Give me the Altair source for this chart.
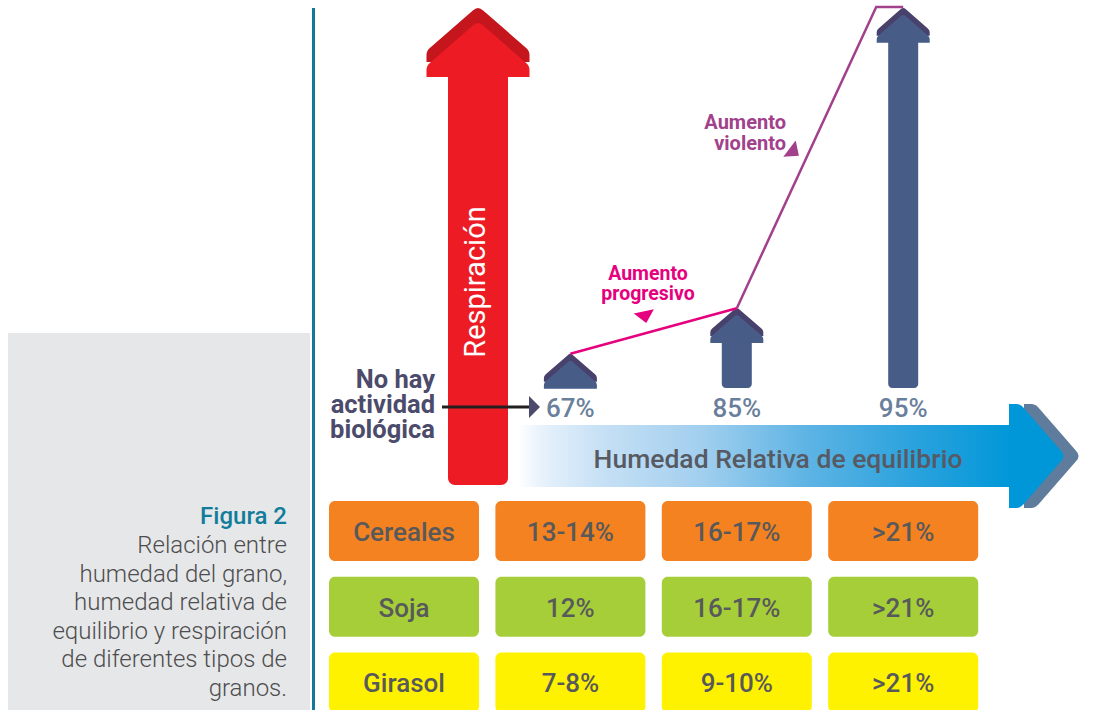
import altair as alt
import pandas as pd

# ---------------------------------------------------------------------------
# Data
# ---------------------------------------------------------------------------
cultivos = ["Cereales", "Soja", "Girasol"]
colores_cultivo = ["#f58220", "#a6ce39", "#fff200"]

humedad_relativa = ["67%", "85%", "95%"]
respiracion = [0.09, 0.21, 1.0]          # relative respiration (1 = maximum)

humedad_grano_cereales = ["13-14%", "16-17%", ">21%"]
humedad_grano_soja = ["12%", "16-17%", ">21%"]
humedad_grano_girasol = ["7-8%", "9-10%", ">21%"]

titulo_eje_y = "Respiración"
titulo_eje_x = "Humedad Relativa de equilibrio"
nota_origen = ["No hay", "actividad", "biológica"]
aumento_progresivo = ["Aumento", "progresivo"]
aumento_violento = ["Aumento", "violento"]
titulo_figura = "Figura 2"
leyenda_figura = ["Relación entre", "humedad del grano,", "humedad relativa de",
                  "equilibrio y respiración", "de diferentes tipos de", "granos."]

# ---------------------------------------------------------------------------
# Layout
# ---------------------------------------------------------------------------
W, H = 1110, 710
FONT = "Roboto"

COL_LEFT0, COL_STEP, CELL_W = 329, 166.4, 150
ROW_TOP0, ROW_STEP, CELL_H = 501, 75.7, 60

BASE_Y, SPAN_Y = 388, 380                # respiration axis: 0 at BASE_Y, 1 at BASE_Y-SPAN_Y
RED_X = 478


def col_center(c):
    return COL_LEFT0 + COL_STEP * c + CELL_W / 2


def resp_y(r):
    return BASE_Y - r * SPAN_Y


XS = alt.Scale(domain=[0, W], nice=False, zero=False)
YS = alt.Scale(domain=[0, H], nice=False, zero=False, reverse=True)


def X(f="x"):
    return alt.X(f"{f}:Q", scale=XS, axis=None)


def Y(f="y"):
    return alt.Y(f"{f}:Q", scale=YS, axis=None)


def rects(rows, **kw):
    df = pd.DataFrame(rows, columns=["x", "x2", "y", "y2", "fill"])
    return alt.Chart(df).mark_rect(**kw).encode(
        x=X(), x2=alt.X2("x2:Q"), y=Y(), y2=alt.Y2("y2:Q"),
        color=alt.Color("fill:N", scale=None))


def texts(rows, **kw):
    df = pd.DataFrame(rows, columns=["x", "y", "text"])
    return alt.Chart(df).mark_text(**kw).encode(x=X(), y=Y(), text="text:N")


def symbols(rows, path):
    df = pd.DataFrame(rows, columns=["x", "y", "size", "angle", "fill"])
    return alt.Chart(df).mark_point(shape=path, filled=True, opacity=1,
                                    strokeWidth=0).encode(
        x=X(), y=Y(),
        size=alt.Size("size:Q", scale=None),
        angle=alt.Angle("angle:Q", scale=None),
        color=alt.Color("fill:N", scale=None))


def polyline(points, **kw):
    df = pd.DataFrame([(x, y, i) for i, (x, y) in enumerate(points)],
                      columns=["x", "y", "o"])
    return alt.Chart(df).mark_line(**kw).encode(x=X(), y=Y(), order=alt.Order("o:Q"))


# arrow head in unit coordinates (width 2, apex up, base at +0.5)
HEAD = ("M-1,0.5 L-1,0.36 Q-1,0.28 -0.93,0.22 L-0.1,-0.5 Q0,-0.6 0.1,-0.5 "
        "L0.93,0.22 Q1,0.28 1,0.36 L1,0.5 Z")
POINTER = "M-1,-0.55 L1,-0.55 L0,0.6 Z"
ARROW_TIP = "M-0.5,-1 L0.5,0 L-0.5,1 Z"

layers = []

# caption panel and divider
layers.append(rects([(8, 310, 333, H + 5, "#e6e7e8")]))
layers.append(rects([(312, 315, 8, H + 5, "#127a99")]))

# horizontal axis arrow (gradient band)
grad = alt.LinearGradient(
    gradient="linear", x1=0, x2=1, y1=0, y2=0,
    stops=[alt.GradientStop(color="#ffffff", offset=0),
           alt.GradientStop(color="#e6f1fb", offset=0.05),
           alt.GradientStop(color="#c6e0f5", offset=0.17),
           alt.GradientStop(color="#a2cfef", offset=0.37),
           alt.GradientStop(color="#5eb4e4", offset=0.58),
           alt.GradientStop(color="#2aa2dd", offset=0.8),
           alt.GradientStop(color="#0097d8", offset=1)])
layers.append(symbols([(1050, 456, 104 ** 2, 90, "#607c9c")], HEAD))
band = pd.DataFrame([{"x": 518, "x2": 1014, "y": 425, "y2": 487}])
layers.append(alt.Chart(band).mark_rect(fill=grad).encode(
    x=X(), x2=alt.X2("x2:Q"), y=Y(), y2=alt.Y2("y2:Q")))
layers.append(symbols([(1035, 456, 104 ** 2, 90, "#0097d8")], HEAD))
layers.append(texts([(778, 468, titulo_eje_x)], font=FONT, fontSize=26.5,
                    fontWeight=500, color="#585a63", align="center",
                    baseline="alphabetic"))

# vertical axis arrow (respiration)
red_half = 51.5
red_tip = resp_y(max(respiracion))
red_dark_c = red_tip + 0.55 * red_half
red_c = red_dark_c + 15
layers.append(rects([(RED_X - 30, RED_X + 30, red_c + red_half * 0.5 - 2, 485, "#ed1c24")],
                    cornerRadiusBottomLeft=7, cornerRadiusBottomRight=7))
layers.append(symbols([(RED_X, red_dark_c, (2 * red_half) ** 2, 0, "#c4161c"),
                       (RED_X, red_c, (2 * red_half) ** 2, 0, "#ed1c24")], HEAD))
layers.append(texts([(RED_X + 7, 282, titulo_eje_y)], font=FONT, fontSize=29,
                    color="white", align="center", baseline="alphabetic", angle=270))

# respiration arrows for each relative humidity
blue_half = 26.5
dark_rows, bright_rows, body_rows, tips = [], [], [], []
for i, r in enumerate(respiracion):
    cx = col_center(i + 1)
    tip = resp_y(r)
    dark_c = tip + 0.55 * blue_half
    bright_c = dark_c + 7
    base = bright_c + 0.5 * blue_half
    tips.append((cx, tip))
    dark_rows.append((cx, dark_c, (2 * blue_half) ** 2, 0, "#48416c"))
    bright_rows.append((cx, bright_c, (2 * blue_half) ** 2, 0, "#475c87"))
    if base < BASE_Y - 2:
        body_rows.append((cx - 15, cx + 15, base - 1, BASE_Y, "#475c87"))
layers.append(symbols(dark_rows, HEAD))
layers.append(rects(body_rows, cornerRadiusBottomLeft=4, cornerRadiusBottomRight=4))
layers.append(symbols(bright_rows, HEAD))

layers.append(texts([(col_center(i + 1), 417, h) for i, h in enumerate(humedad_relativa)],
                    font=FONT, fontSize=26, fontWeight=500, color="#6a7f9b",
                    align="center", baseline="alphabetic"))

# trend lines between arrow tips
layers.append(polyline([tips[0], tips[1]], color="#e5007e", strokeWidth=2.5))
layers.append(polyline([tips[1], (tips[2][0] - blue_half - 0.5, tips[2][1] - 1),
                        (tips[2][0], tips[2][1] - 1)],
                       color="#a2418b", strokeWidth=2.5))
layers.append(symbols([(645, 317, 420, 348, "#e5007e"),
                       (794, 152, 420, 307, "#a2418b")], POINTER))
layers.append(texts([(648, 280, aumento_progresivo[0]), (648, 300, aumento_progresivo[1])],
                    font=FONT, fontSize=19.5, fontWeight="bold", color="#e5007e",
                    align="center", baseline="alphabetic"))
layers.append(texts([(786, 129, aumento_violento[0]), (786, 150, aumento_violento[1])],
                    font=FONT, fontSize=20, fontWeight="bold", color="#a2418b",
                    align="right", baseline="alphabetic"))

# "no biological activity" note with pointer
layers.append(texts([(435, 388 + 25 * k, t) for k, t in enumerate(nota_origen)],
                    font=FONT, fontSize=25.5, fontWeight="bold", color="#4c4b6b",
                    align="right", baseline="alphabetic"))
layers.append(polyline([(442, 407), (531, 407)], color="#231f20", strokeWidth=3))
layers.append(symbols([(534.5, 407, 22 ** 2, 0, "#4c4b6b")], ARROW_TIP))

# grain moisture table
grano = [humedad_grano_cereales, humedad_grano_soja, humedad_grano_girasol]
cell_rows, cell_text = [], []
for r, (cultivo, color) in enumerate(zip(cultivos, colores_cultivo)):
    top = ROW_TOP0 + ROW_STEP * r
    for c, label in enumerate([cultivo] + grano[r]):
        left = COL_LEFT0 + COL_STEP * c
        cell_rows.append((left, left + CELL_W, top, top + CELL_H, color))
        cell_text.append((left + CELL_W / 2, top + CELL_H / 2 + 10, label))
layers.append(rects(cell_rows, cornerRadius=6))
layers.append(texts(cell_text, font=FONT, fontSize=26, fontWeight=500,
                    color="#58595b", align="center", baseline="alphabetic"))

# figure caption
layers.append(texts([(287, 524, titulo_figura)], font=FONT, fontSize=24,
                    fontWeight=500, color="#127d9b", align="right",
                    baseline="alphabetic"))
layers.append(texts([(287, 553 + 28.5 * k, t) for k, t in enumerate(leyenda_figura)],
                    font=FONT, fontSize=24, fontWeight=300, color="#4d4d4f",
                    align="right", baseline="alphabetic"))

chart = alt.layer(*layers).properties(
    width=W, height=H, padding=0, autosize=alt.AutoSizeParams(type="none"),
    background="white",
).configure_view(stroke=None)

chart.save("out.html", embed_options={"renderer": "svg", "actions": False})
